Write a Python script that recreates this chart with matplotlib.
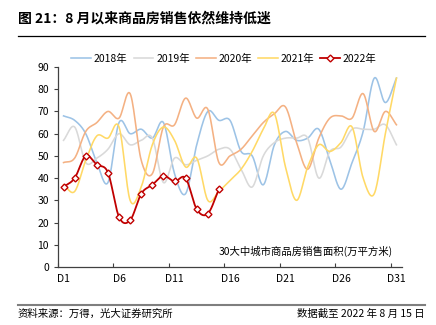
import numpy as np
import matplotlib
matplotlib.use("Agg")
import matplotlib.pyplot as plt
from matplotlib.lines import Line2D

plt.rcParams["font.family"] = ["Noto Sans CJK SC", "DejaVu Sans"]

# 数据
days = np.arange(1, 32)
tick_labels = ["D1", "D6", "D11", "D16", "D21", "D26", "D31"]
y2018 = [68, 66, 60, 47, 38, 65, 60, 62, 58, 65, 42, 33, 55, 70, 66, 66,
         52, 50, 37, 55, 61, 57, 58, 62, 48, 35, 47, 61, 85, 74, 85]
y2019 = [57, 63, 47, 49, 53, 60, 55, 57, 58, 38, 49, 46, 48, 50, 53, 53,
         44, 36, 50, 56, 58, 58, 58, 40, 52, 54, 62, 62, 62, 64, 55]
y2020 = [47, 49, 61, 65, 70, 67, 78, 48, 42, 63, 64, 76, 67, 71, 47, 50,
         53, 59, 65, 69, 72, 56, 44, 58, 67, 68, 67, 78, 61, 70, 64]
y2021 = [37, 34, 48, 59, 58, 63, 30, 36, 55, 63, 57, 45, 49, 30, 34, 39,
         44, 52, 62, 69, 45, 30, 45, 55, 52, 56, 63, 40, 33, 60, 85]
y2022 = [36, 40, 50, 46, 42.5, 22.5, 21, 33, 37, 41, 38.5, 40, 26, 24, 35]

series = [("2018年", y2018, "#9DC3E6"),
          ("2019年", y2019, "#D9D9D9"),
          ("2020年", y2020, "#F4B183"),
          ("2021年", y2021, "#FFD966")]


# 平滑曲线（类似 Excel 的平滑线）
def smooth(x, y, n=16):
    x = np.asarray(x, float)
    y = np.asarray(y, float)
    px = np.concatenate([[2 * x[0] - x[1]], x, [2 * x[-1] - x[-2]]])
    py = np.concatenate([[2 * y[0] - y[1]], y, [2 * y[-1] - y[-2]]])
    xs, ys = [], []
    t = np.linspace(0, 1, n, endpoint=False)
    for i in range(1, len(px) - 2):
        for p, out in ((px, xs), (py, ys)):
            p0, p1, p2, p3 = p[i - 1], p[i], p[i + 1], p[i + 2]
            out.extend(0.5 * ((2 * p1) + (-p0 + p2) * t
                              + (2 * p0 - 5 * p1 + 4 * p2 - p3) * t ** 2
                              + (-p0 + 3 * p1 - 3 * p2 + p3) * t ** 3))
    xs.append(x[-1])
    ys.append(y[-1])
    return np.array(xs), np.array(ys)


fig = plt.figure(figsize=(4.36, 3.25), dpi=100)
ax = fig.add_axes([58 / 436, 1 - 267 / 325, 344 / 436, 200 / 325])

for name, vals, color in series:
    sx, sy = smooth(days, vals)
    ax.plot(sx, sy, color=color, lw=1.15)

sx, sy = smooth(days[:len(y2022)], y2022)
ax.plot(sx, sy, color="#C00000", lw=1.3)
ax.plot(days[:len(y2022)], y2022, ls="none", marker="D", ms=3.5,
        mfc="white", mec="#C00000", mew=1)

ax.set_xlim(0.5, 31.5)
ax.set_ylim(0, 90)
ax.set_yticks(range(0, 91, 10))
ax.set_xticks(np.arange(0.5, 31, 5))
ax.set_xticklabels([])
ax.set_xticks(np.arange(1, 32, 5), minor=True)
ax.set_xticklabels(tick_labels, minor=True)
ax.tick_params(axis="x", which="major", direction="in", length=3, color="#404040")
ax.tick_params(axis="x", which="minor", length=0, labelsize=7.5, pad=5)
ax.tick_params(axis="y", direction="out", length=3, labelsize=7.5, color="#404040")
for s in ["top", "right"]:
    ax.spines[s].set_visible(False)
for s in ["left", "bottom"]:
    ax.spines[s].set_color("#404040")
    ax.spines[s].set_linewidth(0.9)

ax.text(30.7, 4.5, "30大中城市商品房销售面积(万平方米)", ha="right",
        va="bottom", fontsize=7.5)

handles = [Line2D([], [], color=c, lw=1.15) for _, _, c in series]
handles.append(Line2D([], [], color="#C00000", lw=1.3, marker="D", ms=3.5,
                      mfc="white", mec="#C00000"))
labels = [n for n, _, _ in series] + ["2022年"]
fig.legend(handles, labels, loc="center", ncol=5, frameon=False,
           bbox_to_anchor=(224 / 436, 1 - 59 / 325), fontsize=7.5,
           handlelength=1.9, columnspacing=0.6, handletextpad=0.25)

fig.text(18 / 436, 1 - 19 / 325, "图 21：8 月以来商品房销售依然维持低迷",
         fontsize=10, fontweight="bold", va="center", ha="left")
fig.add_artist(Line2D([18 / 436, 425 / 436], [1 - 36 / 325] * 2,
                      color="black", lw=0.9))
fig.add_artist(Line2D([18 / 436, 425 / 436], [1 - 305 / 325] * 2,
                      color="#7F7F7F", lw=1.5))
fig.text(18 / 436, 1 - 314 / 325, "资料来源：万得，光大证券研究所",
         fontsize=7.5, va="center", ha="left")
fig.text(425 / 436, 1 - 314 / 325, "数据截至 2022 年 8 月 15 日",
         fontsize=7.5, va="center", ha="right")

fig.savefig("out.png", dpi=100)
